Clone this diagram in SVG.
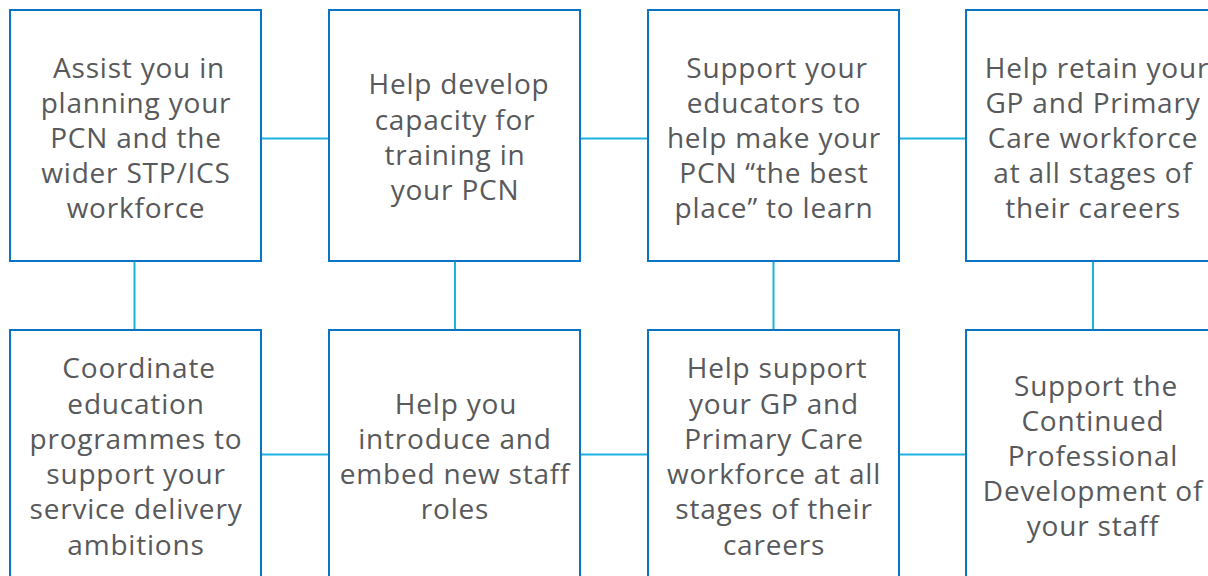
<svg xmlns="http://www.w3.org/2000/svg" width="1208" height="576" viewBox="0 0 1208 576">
<style>
.box{fill:#ffffff;stroke:#0a74c4;stroke-width:2}
.conn{stroke:#1cb1e0;stroke-width:2;fill:none}
text{font-family:"Open Sans","Noto Sans",sans-serif;font-size:28px;letter-spacing:0.8px;fill:#58595b;text-anchor:middle}
</style>
<rect width="1208" height="576" fill="#ffffff"/>
<g id="connectors">
<line class="conn" x1="261" y1="138.5" x2="329" y2="138.5"/>
<line class="conn" x1="580" y1="138.5" x2="648" y2="138.5"/>
<line class="conn" x1="899" y1="138.5" x2="966" y2="138.5"/>
<line class="conn" x1="261" y1="454.5" x2="329" y2="454.5"/>
<line class="conn" x1="580" y1="454.5" x2="648" y2="454.5"/>
<line class="conn" x1="899" y1="454.5" x2="966" y2="454.5"/>
<line class="conn" x1="134.5" y1="261" x2="134.5" y2="330"/>
<line class="conn" x1="455" y1="261" x2="455" y2="330"/>
<line class="conn" x1="773.5" y1="261" x2="773.5" y2="330"/>
<line class="conn" x1="1093" y1="261" x2="1093" y2="330"/>
</g>
<g id="n1"><rect class="box" x="10" y="10" width="251" height="251"/>
<text><tspan x="139" y="78">Assist you in</tspan><tspan x="136" y="113">planning your</tspan><tspan x="136" y="148">PCN and the</tspan><tspan x="136" y="183">wider STP/ICS</tspan><tspan x="136" y="218">workforce</tspan></text></g>
<g id="n2"><rect class="box" x="329" y="10" width="251" height="251"/>
<text><tspan x="459" y="94">Help develop</tspan><tspan x="455" y="130">capacity for</tspan><tspan x="455" y="165">training in</tspan><tspan x="455" y="200">your PCN</tspan></text></g>
<g id="n3"><rect class="box" x="648" y="10" width="251" height="251"/>
<text><tspan x="777" y="78">Support your</tspan><tspan x="774" y="113">educators to</tspan><tspan x="774" y="148">help make your</tspan><tspan x="774" y="183">PCN “the best</tspan><tspan x="774" y="218">place” to learn</tspan></text></g>
<g id="n4"><rect class="box" x="966" y="10" width="260" height="251"/>
<text><tspan x="1097" y="78">Help retain your</tspan><tspan x="1093" y="113">GP and Primary</tspan><tspan x="1093" y="148">Care workforce</tspan><tspan x="1093" y="183">at all stages of</tspan><tspan x="1093" y="218">their careers</tspan></text></g>
<g id="n5"><rect class="box" x="10" y="330" width="251" height="260"/>
<text><tspan x="139" y="378">Coordinate</tspan><tspan x="136" y="414">education</tspan><tspan x="136" y="449">programmes to</tspan><tspan x="136" y="484">support your</tspan><tspan x="136" y="519">service delivery</tspan><tspan x="136" y="555">ambitions</tspan></text></g>
<g id="n6"><rect class="box" x="329" y="330" width="251" height="260"/>
<text><tspan x="456" y="414">Help you</tspan><tspan x="455" y="449">introduce and</tspan><tspan x="455" y="484">embed new staff</tspan><tspan x="455" y="519">roles</tspan></text></g>
<g id="n7"><rect class="box" x="648" y="330" width="251" height="260"/>
<text><tspan x="777" y="378">Help support</tspan><tspan x="774" y="414">your GP and</tspan><tspan x="774" y="449">Primary Care</tspan><tspan x="774" y="484">workforce at all</tspan><tspan x="774" y="519">stages of their</tspan><tspan x="774" y="555">careers</tspan></text></g>
<g id="n8"><rect class="box" x="966" y="330" width="260" height="260"/>
<text><tspan x="1096" y="396">Support the</tspan><tspan x="1093" y="431">Continued</tspan><tspan x="1093" y="466">Professional</tspan><tspan x="1093" y="501">Development of</tspan><tspan x="1093" y="536">your staff</tspan></text></g>
</svg>
